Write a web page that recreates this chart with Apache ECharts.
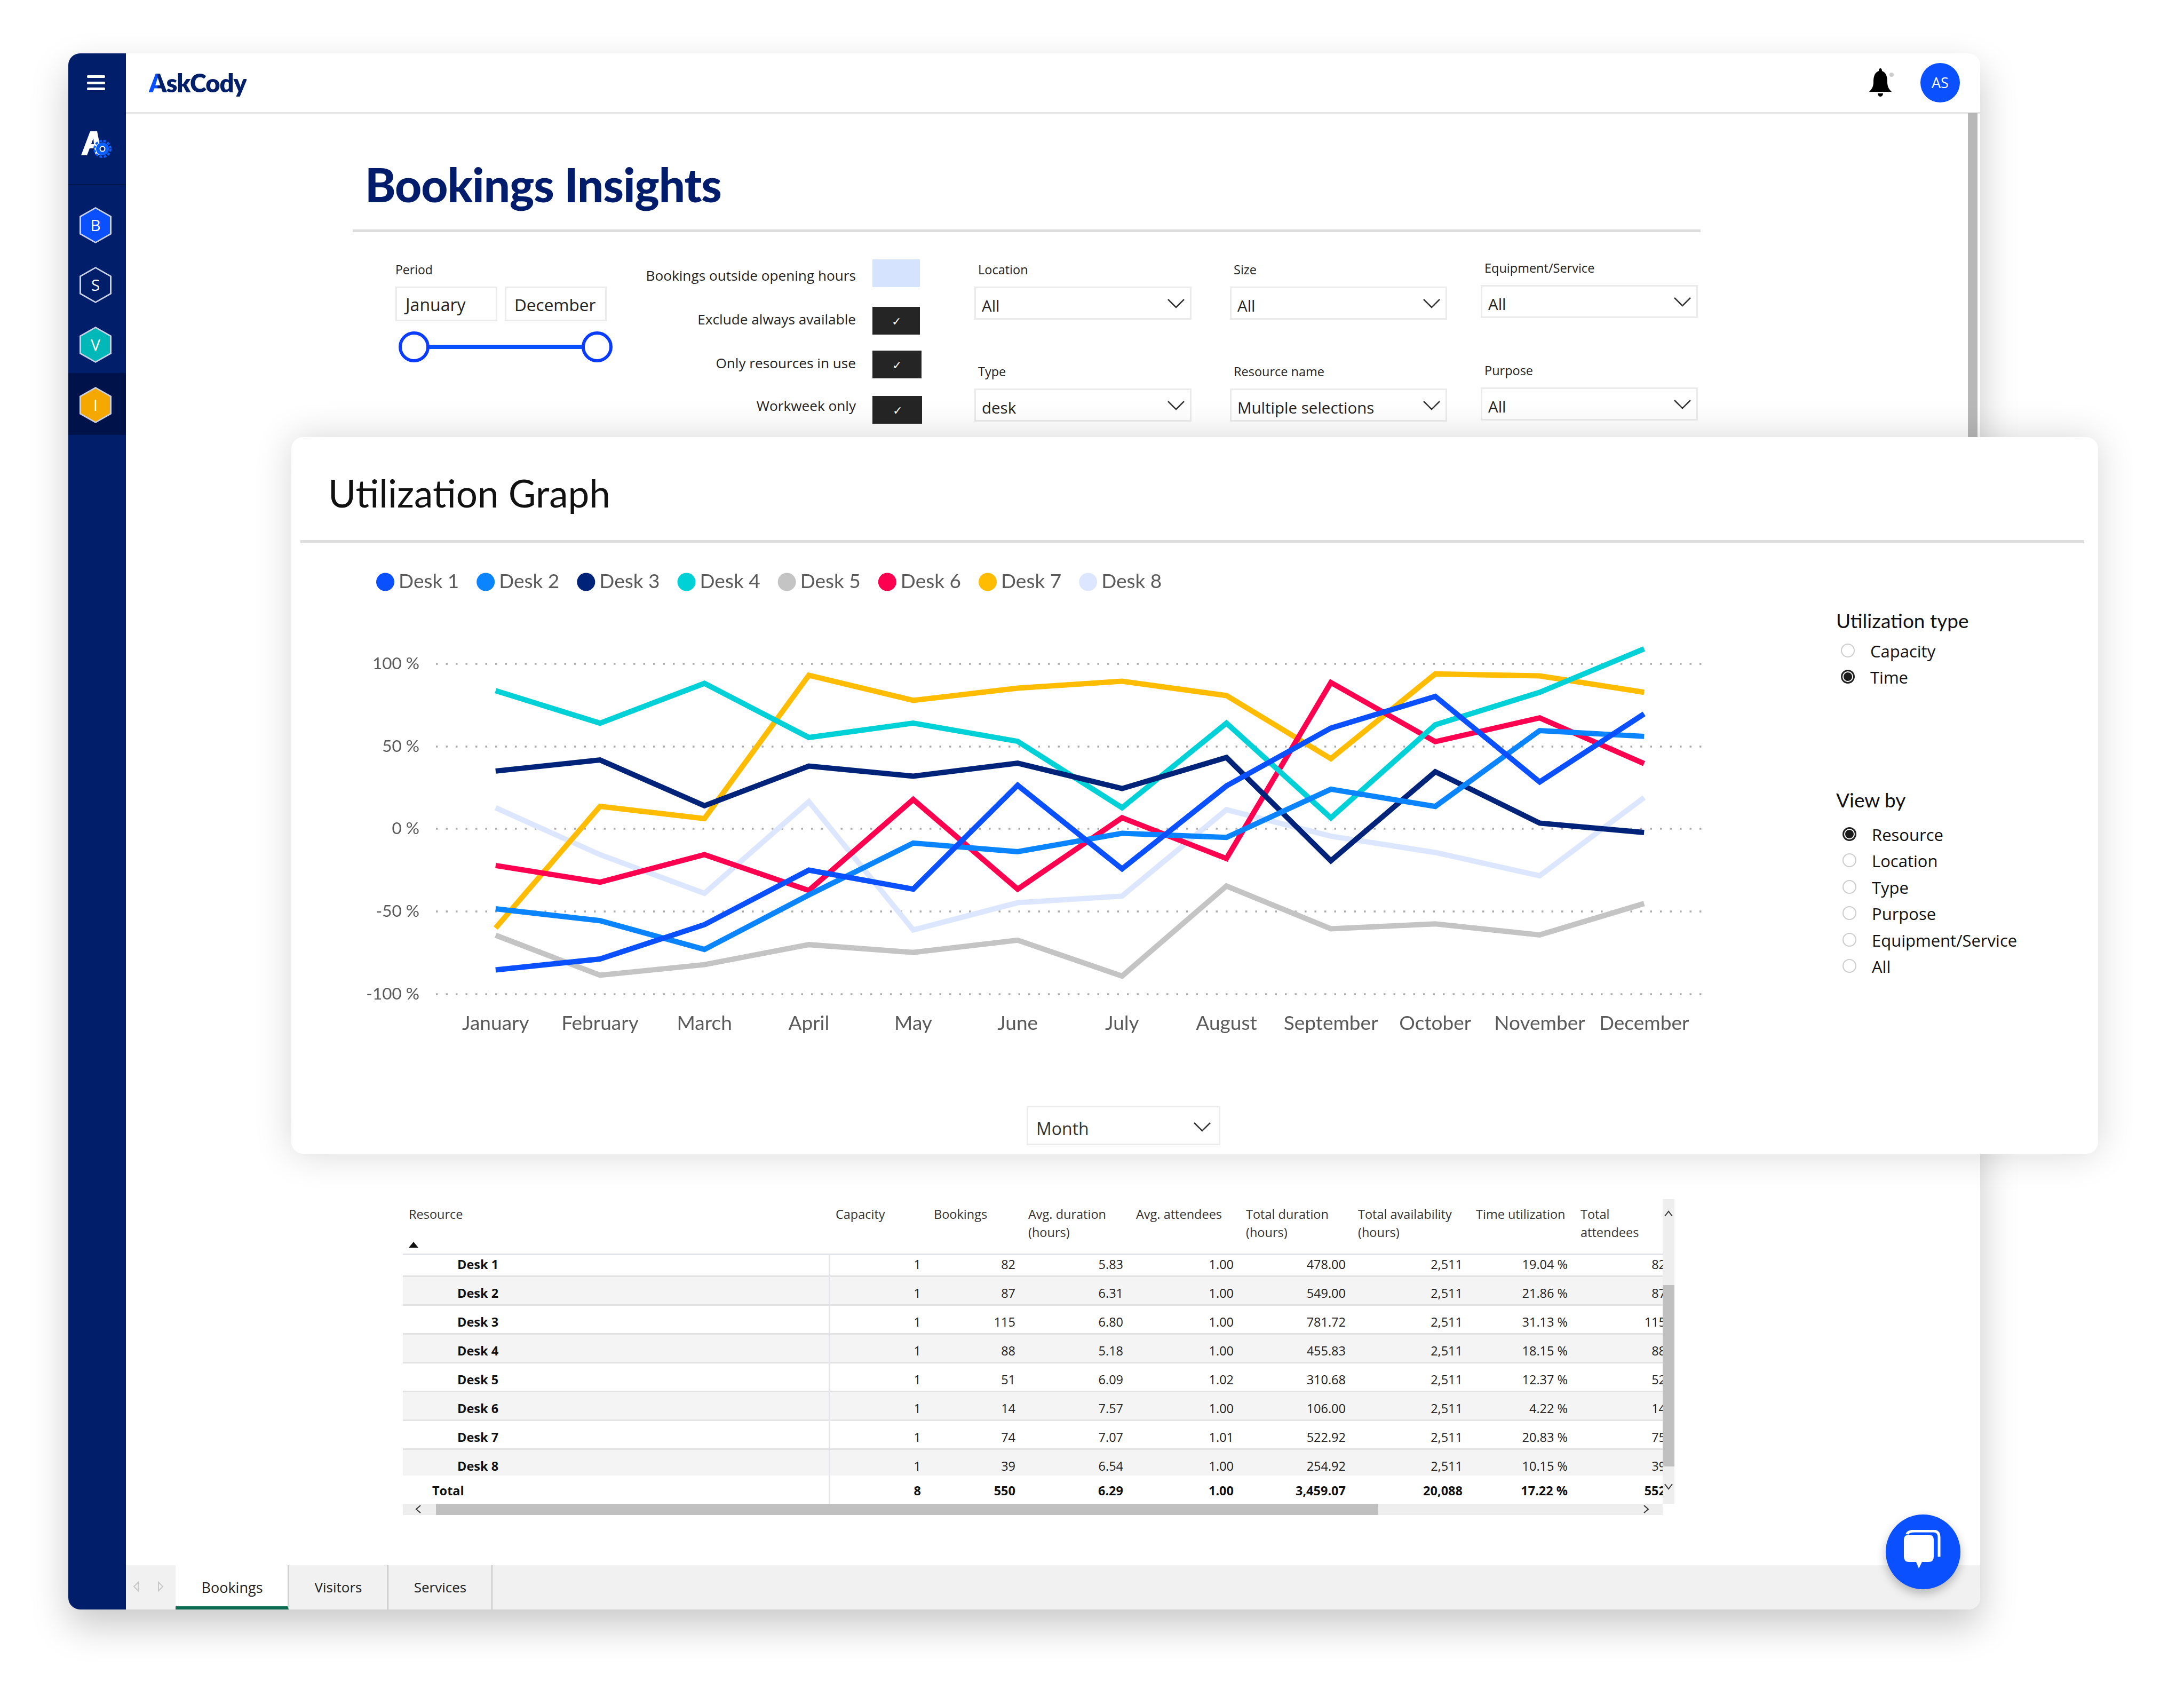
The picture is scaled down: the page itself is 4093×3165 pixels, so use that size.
<!DOCTYPE html>
<html>
<head>
<meta charset="utf-8">
<title>Bookings Insights</title>
<script src="https://cdn.jsdelivr.net/npm/echarts@6/dist/echarts.min.js"></script>
<style>
html, body { margin: 0; padding: 0; background: #fff; }
#page { position: relative; width: 4093px; height: 3165px; overflow: hidden; font-family: "Open Sans", sans-serif; color: #222; }
#page div, #page span { position: absolute; white-space: nowrap; }
.win { left: 128px; top: 100px; width: 3583px; height: 2916px; background: #fff; border-radius: 22px; box-shadow: 0 30px 70px rgba(0,0,0,.22); overflow: hidden; }
.card { left: 546px; top: 819px; width: 3386px; height: 1343px; background: #fff; border-radius: 22px; box-shadow: 0 0 70px rgba(0,0,0,.16); }
.v { transform: translateY(-50%); }
.r { transform: translate(-100%, -50%); }
.c { transform: translate(-50%, -50%); }
.box { border: 3px solid #ebebeb; box-sizing: border-box; background: #fff; }
.hex { width: 54px; height: 62px; transform: translate(-50%, -50%); clip-path: polygon(50% 0, 100% 25%, 100% 75%, 50% 100%, 0 75%, 0 25%); color: #fff; text-align: center; line-height: 62px; font-size: 30px; }
#chart { position: absolute; left: 0; top: 0; width: 4093px; height: 3165px; }
</style>
</head>
<body>
<div id="page">
  <div class="win"></div>
  <div id="chrome"></div>
  <div class="card"></div>
  <div id="cardbits"></div>
  <div id="chart"></div>
</div>
<script>
// values
const months = ['January', 'February', 'March', 'April', 'May', 'June', 'July', 'August', 'September', 'October', 'November', 'December'];
const yTicks = [-100, -50, 0, 50, 100];
const desk1 = [-85.4, -78.8, -58, -25, -36.5, 26.4, -24.2, 26, 61, 80.2, 28.4, 69.6];
const desk2 = [-48.4, -55.6, -73, -40, -8.6, -13.8, -2.7, -5.2, 24, 13.6, 59.5, 56];
const desk3 = [35, 41.7, 14, 38, 31.9, 39.8, 24.4, 43.2, -19.3, 34.6, 3.5, -2.2];
const desk4 = [83.7, 64, 88.1, 55.3, 64, 53, 12.8, 64, 6.7, 63, 82.7, 109];
const desk5 = [-64.4, -88.6, -82.2, -70.1, -74.8, -67.4, -89.1, -34.6, -60.5, -57.5, -64.2, -45.2];
const desk6 = [-22.2, -32.3, -15.6, -37.3, 17.8, -36.5, 6.7, -18, 88.6, 52.8, 67.2, 39.5];
const desk7 = [-60, 13.6, 6.2, 93, 77.8, 85.2, 89.4, 80.7, 42.5, 93.8, 92.6, 82.7];
const desk8 = [12.8, -15.6, -39, 16.5, -61.2, -44.7, -40.7, 11.6, -4.4, -14.3, -28.4, 19];
const deskNames = ['Desk 1', 'Desk 2', 'Desk 3', 'Desk 4', 'Desk 5', 'Desk 6', 'Desk 7', 'Desk 8'];
const deskColors = ['#0a50ff', '#0a84ff', '#00237a', '#00d1d6', '#c4c4c4', '#ff0050', '#ffbc00', '#dce7ff'];

const tableHead = [['Capacity', ''], ['Bookings', ''], ['Avg. duration', '(hours)'], ['Avg. attendees', ''], ['Total duration', '(hours)'], ['Total availability', '(hours)'], ['Time utilization', ''], ['Total', 'attendees']];
const tableRows = [
  ['1', '82', '5.83', '1.00', '478.00', '2,511', '19.04 %', '82'],
  ['1', '87', '6.31', '1.00', '549.00', '2,511', '21.86 %', '87'],
  ['1', '115', '6.80', '1.00', '781.72', '2,511', '31.13 %', '115'],
  ['1', '88', '5.18', '1.00', '455.83', '2,511', '18.15 %', '88'],
  ['1', '51', '6.09', '1.02', '310.68', '2,511', '12.37 %', '52'],
  ['1', '14', '7.57', '1.00', '106.00', '2,511', '4.22 %', '14'],
  ['1', '74', '7.07', '1.01', '522.92', '2,511', '20.83 %', '75'],
  ['1', '39', '6.54', '1.00', '254.92', '2,511', '10.15 %', '39']
];
const tableTotal = ['8', '550', '6.29', '1.00', '3,459.07', '20,088', '17.22 %', '552'];

// little helpers for the page around the chart
function add(parent, css, text, cls) {
  const d = document.createElement('div');
  d.style.cssText = css;
  if (text !== undefined) d.textContent = text;
  if (cls) d.className = cls;
  parent.appendChild(d);
  return d;
}
function chevron(parent, x, y) {
  const s = `<svg width="34" height="20" style="position:absolute;left:${x - 17}px;top:${y - 10}px"><path d="M2 2 L17 17 L32 2" fill="none" stroke="#333" stroke-width="2.5"/></svg>`;
  parent.insertAdjacentHTML('beforeend', s);
}

const chrome = document.getElementById('chrome');

// header + sidebar
add(chrome, 'left:128px;top:100px;width:108px;height:2916px;background:#011e6a;border-radius:22px 0 0 22px');
add(chrome, 'left:128px;top:345px;width:108px;height:2px;background:#00164f');
add(chrome, 'left:128px;top:699px;width:108px;height:116px;background:#00124a');
[143.5, 155, 166.5].forEach(y => add(chrome, `left:163px;top:${y - 2.5}px;width:34px;height:5px;background:#fff;border-radius:2px`));
add(chrome, 'left:236px;top:210px;width:3475px;height:3px;background:#e4e4e4');
add(chrome, 'left:279px;top:155px;font:800 47px Lato;letter-spacing:-1px;color:transparent;background:linear-gradient(90deg,#0a50ff 0,#0a50ff 9%,#001f6b 9%);-webkit-background-clip:text;background-clip:text', 'AskCody', 'v');
add(chrome, 'left:3636px;top:155px;width:74px;height:74px;border-radius:50%;background:#0a50ff;color:#fff;font-size:27px;text-align:center;line-height:74px;transform:translate(-50%,-50%)', 'AS');
chrome.insertAdjacentHTML('beforeend', '<svg width="50" height="56" style="position:absolute;left:3499px;top:126px"><path d="M25 2 C27 2 28 4 28 7 C37 10 38 20 38 28 C38 36 41 41 46 46 L4 46 C9 41 12 36 12 28 C12 20 13 10 22 7 C22 4 23 2 25 2 Z M20 49 L30 49 C30 53 27 55 25 55 C23 55 20 53 20 49 Z" fill="#000"/><circle cx="46" cy="14" r="4" fill="#ccc"/></svg>');
chrome.insertAdjacentHTML('beforeend', '<svg width="70" height="64" style="position:absolute;left:150px;top:244px"><path d="M2 47 L19 2 L32 2 L41 47 L29 47 L27 34 L18 34 L13 47 Z M21 26 L26 26 L25 15 Z" fill="#fff" fill-rule="evenodd"/><circle cx="42" cy="35" r="15" fill="none" stroke="#0a60ff" stroke-width="4" stroke-dasharray="5 3"/><circle cx="42" cy="35" r="12" fill="#0a60ff"/><circle cx="42" cy="35" r="4.5" fill="#011e6a" stroke="#fff" stroke-width="2"/></svg>');
[['B', 422, '#0a50ff'], ['S', 534, '#011e6a'], ['V', 646, '#00b8b8'], ['I', 759, '#f5a800']].forEach(h => {
  add(chrome, `left:179px;top:${h[1]}px;width:60px;height:68px;background:#c9d1e4;transform:translate(-50%,-50%);clip-path:polygon(50% 0,100% 25%,100% 75%,50% 100%,0 75%,0 25%)`);
  add(chrome, `left:179px;top:${h[1]}px;background:${h[2]}`, h[0], 'hex');
});

// page title and filters
add(chrome, 'left:684px;top:345px;font:900 87px Lato;color:#001c6b;letter-spacing:-1px', 'Bookings Insights', 'v');
add(chrome, 'left:661px;top:430px;width:2526px;height:5px;background:#dcdcdc');
add(chrome, 'left:3688px;top:212px;width:18px;height:607px;background:#b8b8b8');

add(chrome, 'left:741px;top:505px;font-size:23px', 'Period', 'v');
add(chrome, 'left:741px;top:537px;width:191px;height:65px', undefined, 'box');
add(chrome, 'left:946px;top:537px;width:191px;height:65px', undefined, 'box');
add(chrome, 'left:760px;top:570px;font-size:32px', 'January', 'v');
add(chrome, 'left:964px;top:570px;font-size:31.5px', 'December', 'v');
add(chrome, 'left:776px;top:646px;width:343px;height:8px;background:#0a50ff');
[776, 1119].forEach(x => add(chrome, `left:${x - 29}px;top:621px;width:58px;height:58px;box-sizing:border-box;border:6px solid #0a3cff;border-radius:50%;background:#fff`));

const toggles = [['Bookings outside opening hours', 516, 486, false, 89], ['Exclude always available', 598, 575, true, 89], ['Only resources in use', 680, 657, true, 92], ['Workweek only', 760, 742, true, 93]];
toggles.forEach(t => {
  add(chrome, `left:1604px;top:${t[1]}px;font-size:26.2px`, t[0], 'r');
  const b = add(chrome, `left:1635px;top:${t[2]}px;width:${t[4]}px;height:52px;background:${t[3] ? '#252525' : '#d5e3ff'};color:#fff;text-align:center;line-height:52px;font-size:22px`);
  if (t[3]) b.textContent = '\u2713';
});

const filters = [
  ['Location', 'All', 1826, 537], ['Size', 'All', 2305, 537], ['Equipment/Service', 'All', 2775, 534],
  ['Type', 'desk', 1826, 728], ['Resource name', 'Multiple selections', 2305, 728], ['Purpose', 'All', 2775, 726]
];
filters.forEach(f => {
  add(chrome, `left:${f[2] + 7}px;top:${f[3] - 32}px;font-size:23.5px`, f[0], 'v');
  add(chrome, `left:${f[2]}px;top:${f[3]}px;width:407px;height:62px`, undefined, 'box');
  add(chrome, `left:${f[2] + 14}px;top:${f[3] + 35}px;font-size:29.5px`, f[1], 'v');
  chevron(chrome, f[2] + 378, f[3] + 32);
});

// table under the card
const headX = [1566, 1750, 1927, 2129, 2335, 2545, 2766, 2962];
const cellRight = [1726, 1903, 2105, 2312, 2522, 2741, 2938, 3122];
const rowH = 54;
add(chrome, 'left:766px;top:2275px;font-size:23.5px;color:#333', 'Resource', 'v');
add(chrome, 'left:766px;top:2327px;width:0;height:0;border-left:9px solid transparent;border-right:9px solid transparent;border-bottom:11px solid #111');
tableHead.forEach((h, i) => {
  add(chrome, `left:${headX[i]}px;top:2275px;font-size:23.5px;color:#333`, h[0], 'v');
  if (h[1]) add(chrome, `left:${headX[i]}px;top:2309px;font-size:23.5px;color:#333`, h[1], 'v');
});
const tbl = add(chrome, 'left:755px;top:2349px;width:2361px;height:469px;overflow:hidden');
tableRows.forEach((row, r) => {
  // the first row is cut short by the header
  const top = r * rowH;
  if (r % 2 == 1) add(tbl, `left:0;top:${top - 10}px;width:2361px;height:${r == 7 ? 48 : rowH}px;background:#f4f4f4`);
  if (r < 7) add(tbl, `left:0;top:${top + rowH - 13}px;width:2361px;height:3px;background:#e2e2e2`);
  add(tbl, `left:${857 - 755}px;top:${top + 20}px;font-size:23.5px;font-weight:700;color:#111`, deskNames[r], 'v');
  row.forEach((c, i) => add(tbl, `left:${cellRight[i] - 755}px;top:${top + 20}px;font-size:23.5px`, c, 'r'));
});
add(tbl, `left:${810 - 755}px;top:444px;font-size:23.5px;font-weight:700;color:#111`, 'Total', 'v');
tableTotal.forEach((c, i) => add(tbl, `left:${cellRight[i] - 755}px;top:444px;font-size:23.5px;font-weight:700;color:#111`, c, 'r'));
add(tbl, 'left:0;top:0;width:2361px;height:3px;background:#e2e4ea');
add(tbl, `left:${1553 - 755}px;top:0;width:3px;height:469px;background:#e2e4ea`);
add(chrome, 'left:755px;top:2818px;width:2361px;height:21px;background:#eee');
add(chrome, 'left:817px;top:2818px;width:1766px;height:21px;background:#c0c0c0');
add(chrome, 'left:3116px;top:2247px;width:22px;height:571px;background:#eee');
add(chrome, 'left:3116px;top:2408px;width:22px;height:340px;background:#c0c0c0');
const scrollArrows = [[785, 2828, 'M13 3 L5 10 L13 17'], [3085, 2828, 'M6 3 L14 10 L6 17'], [3127, 2275, 'M3 14 L10 5 L17 14'], [3127, 2786, 'M3 5 L10 14 L17 5']];
scrollArrows.forEach(a => chrome.insertAdjacentHTML('beforeend', `<svg width="20" height="20" style="position:absolute;left:${a[0] - 10}px;top:${a[1] - 10}px"><path d="${a[2]}" fill="none" stroke="#333" stroke-width="2"/></svg>`));

// tabs at the bottom
add(chrome, 'left:236px;top:2933px;width:3475px;height:83px;background:#f1f1f1;border-radius:0 0 22px 0');
add(chrome, 'left:329px;top:2933px;width:212px;height:83px;box-sizing:border-box;background:#fff;border-bottom:6px solid #0b6a50;border-right:2px solid #ccc');
add(chrome, 'left:541px;top:2933px;width:187px;height:83px;box-sizing:border-box;border-right:2px solid #c4c4c4');
add(chrome, 'left:728px;top:2933px;width:195px;height:83px;box-sizing:border-box;border-right:2px solid #c4c4c4');
[['Bookings', 435, 27], ['Visitors', 634, 26], ['Services', 825, 26]].forEach(t => add(chrome, `left:${t[1]}px;top:2974px;font-size:${t[2]}px`, t[0], 'c'));
chrome.insertAdjacentHTML('beforeend', '<svg width="70" height="24" style="position:absolute;left:245px;top:2961px"><path d="M14 4 L6 12 L14 20 Z M52 4 L60 12 L52 20 Z" fill="none" stroke="#c8c8c8" stroke-width="2"/></svg>');
add(chrome, 'left:3534px;top:2838px;width:140px;height:140px;border-radius:50%;background:#0a50ff;box-shadow:0 8px 18px rgba(0,0,0,.25)');
chrome.insertAdjacentHTML('beforeend', '<svg width="80" height="80" style="position:absolute;left:3564px;top:2867px"><path d="M10 8 Q12 2 24 2 L60 2 Q70 2 70 14 L70 50" fill="none" stroke="#fff" stroke-width="5"/><path d="M4 18 Q4 9 14 9 L50 9 Q60 9 60 18 L60 50 Q60 60 50 60 L38 60 L32 72 L27 60 L14 60 Q4 60 4 50 Z" fill="#fff"/></svg>');

// bits of the chart card that are not the chart itself
const bits = document.getElementById('cardbits');
add(bits, 'left:615px;top:923px;font:400 71px Lato;color:#111', 'Utilization Graph', 'v');
add(bits, 'left:563px;top:1012px;width:3343px;height:6px;background:#dedede');
add(bits, 'left:3441px;top:1162px;font:400 37px Lato;color:#111', 'Utilization type', 'v');
add(bits, 'left:3441px;top:1498px;font:400 37px Lato;color:#111', 'View by', 'v');
function radio(label, cx, tx, y, on) {
  add(bits, `left:${cx - 13}px;top:${y - 13}px;width:26px;height:26px;box-sizing:border-box;border-radius:50%;border:${on ? '3px solid #222' : '2px solid #ccc'};background:#fff`);
  if (on) add(bits, `left:${cx - 8}px;top:${y - 8}px;width:16px;height:16px;border-radius:50%;background:#1a1a1a`);
  add(bits, `left:${tx}px;top:${y + 1}px;font-size:31px;color:#111`, label, 'v');
}
radio('Capacity', 3463, 3505, 1219, false);
radio('Time', 3463, 3505, 1268, true);
['Resource', 'Location', 'Type', 'Purpose', 'Equipment/Service', 'All'].forEach((l, i) => radio(l, 3466, 3508, 1563 + i * 49.4, i == 0));
add(bits, 'left:1924px;top:2072px;width:363px;height:74px', undefined, 'box');
add(bits, 'left:1942px;top:2114px;font-size:32px;color:#333', 'Month', 'v');
chevron(bits, 2253, 2112);

// the chart, one full page canvas so positions match the page
const chart = echarts.init(document.getElementById('chart'));
const deskData = [desk1, desk2, desk3, desk4, desk5, desk6, desk7, desk8];
const series = deskNames.map((name, i) => ({
  name: name,
  type: 'line',
  xAxisIndex: 1,
  yAxisIndex: 1,
  data: deskData[i],
  clip: false,
  symbol: 'none',
  z: 10 - i,
  color: deskColors[i],
  lineStyle: { width: 10, color: deskColors[i], join: 'miter', miterLimit: 12 }
}));
chart.setOption({
  animation: false,
  backgroundColor: 'transparent',
  legend: {
    data: deskNames,
    left: 700,
    top: 1067,
    icon: 'circle',
    itemWidth: 34,
    itemHeight: 34,
    itemGap: 33,
    textStyle: { fontFamily: 'Lato', fontSize: 37, color: '#5a5a5a', padding: [0, 0, 0, 3] }
  },
  // first grid holds the long dotted lines, second one the months and the lines
  grid: [
    { left: 817, width: 2378, top: 1243.7, height: 619 },
    { left: 831, width: 2348, top: 1243.7, height: 619 }
  ],
  xAxis: [
    { type: 'category', gridIndex: 0, data: months, show: false },
    {
      type: 'category',
      gridIndex: 1,
      data: months,
      axisLine: { show: false },
      axisTick: { show: false },
      axisLabel: { interval: 0, margin: 37, fontFamily: 'Lato', fontSize: 37, color: '#5a5a5a' }
    }
  ],
  yAxis: [
    {
      type: 'value',
      gridIndex: 0,
      min: yTicks[0],
      max: yTicks[4],
      interval: 50,
      axisLine: { show: false },
      axisTick: { show: false },
      axisLabel: { margin: 31, fontFamily: 'Lato', fontSize: 31.5, color: '#5a5a5a', formatter: '{value} %' },
      splitLine: { show: true, lineStyle: { color: '#aaaaaa', width: 3.5, type: [3.5, 15] } }
    },
    { type: 'value', gridIndex: 1, min: yTicks[0], max: yTicks[4], interval: 50, show: false }
  ],
  series: series
});
</script>
</body>
</html>
